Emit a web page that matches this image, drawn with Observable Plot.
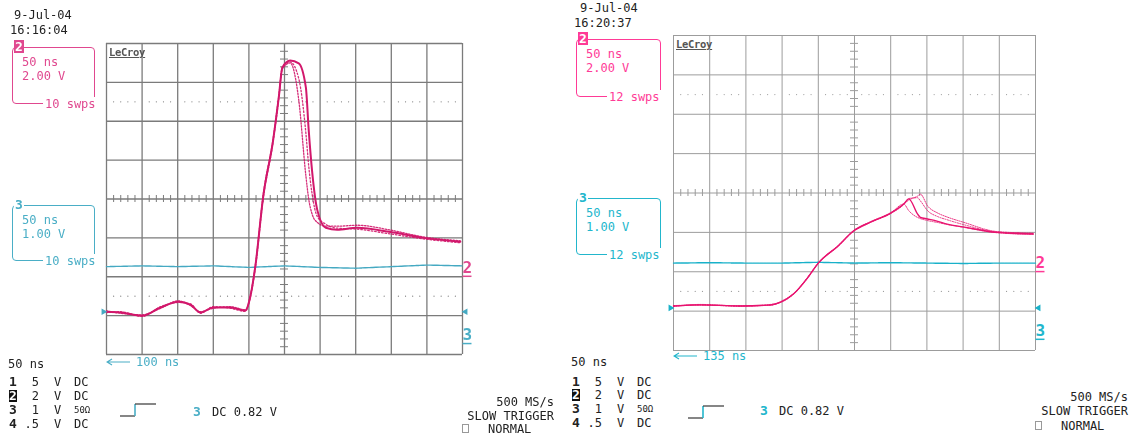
<!DOCTYPE html>
<html>
<head>
<meta charset="utf-8">
<script src="https://cdn.jsdelivr.net/npm/d3@7"></script>
<script src="https://cdn.jsdelivr.net/npm/@observablehq/plot@0.6"></script>
<style>
  html, body { margin: 0; background: #fff; }
  #page { position: relative; width: 1133px; height: 437px; overflow: hidden;
          font-family: "DejaVu Sans Mono", monospace; font-size: 12px; color: #222; }
  .layer { position: absolute; left: 0; top: 0; width: 1133px; height: 437px; }
  .t { position: absolute; white-space: pre; line-height: 14px; }
  .box { position: absolute; box-sizing: border-box; border-radius: 4px; }
</style>
</head>
<body>
<div id="page"></div>
<script>
// ---------------------------------------------------------------------------
// Two LeCroy captures, channel 2 (2 V/div) and channel 3 (1 V/div), 50 ns/div.
// Times are ns from the left edge of the screen, voltages are on-screen volts
// relative to the centre graticule line.
// ---------------------------------------------------------------------------
const timePerDivNs = 50;
const ch2VoltsPerDiv = 2;
const ch3VoltsPerDiv = 1;

// Capture 1 — 9-Jul-04 16:16:04, 10 sweeps
const leftTimeNs   = [0, 20, 50, 76, 101, 118, 132, 150, 174, 195, 201, 209, 220, 234, 242, 247, 258, 270, 280, 284, 289, 296, 308, 324, 352, 399, 445, 497];
const leftCh2SweepA = [-5.80, -5.84, -6.00, -5.58, -5.28, -5.44, -5.84, -5.58, -5.58, -5.74, -5.18, -3.48, 0.10, 3.02, 5.24, 6.76, 7.12, 6.98, 5.74, 3.54, 1.34, -0.56, -1.48, -1.58, -1.48, -1.70, -2.00, -2.20];
const leftCh2SweepB = [-5.76, -5.88, -5.96, -5.62, -5.24, -5.48, -5.80, -5.62, -5.54, -5.70, -5.14, -3.40, 0.20, 3.10, 5.30, 6.70, 7.00, 5.10, 1.20, 0.00, -0.80, -1.20, -1.40, -1.40, -1.35, -1.60, -1.95, -2.15];
const leftCh2SweepC = [-5.84, -5.80, -6.04, -5.54, -5.32, -5.40, -5.88, -5.54, -5.62, -5.78, -5.22, -3.56, 0.00, 2.94, 5.18, 6.80, 7.05, 6.20, 3.40, 1.70, 0.20, -0.90, -1.30, -1.50, -1.55, -1.80, -2.05, -2.25];
const leftCh3TimeNs = [0, 50, 100, 150, 200, 250, 300, 350, 400, 450, 500];
const leftCh3Volts  = [-1.74, -1.72, -1.74, -1.72, -1.76, -1.72, -1.76, -1.78, -1.74, -1.70, -1.72];

// Capture 2 — 9-Jul-04 16:20:37, 12 sweeps
const rightTimeNs   = [0, 37, 93, 134, 148, 166, 185, 200, 227, 249, 272, 300, 318, 325, 337, 341, 351, 365, 378, 400, 447, 497];
const rightCh2SweepA = [-5.74, -5.68, -5.74, -5.68, -5.54, -5.12, -4.32, -3.56, -2.70, -1.92, -1.48, -1.02, -0.56, -0.30, -1.06, -1.24, -1.32, -1.44, -1.58, -1.72, -2.00, -2.08];
const rightCh2SweepB = [-5.74, -5.70, -5.72, -5.70, -5.52, -5.10, -4.30, -3.54, -2.68, -1.90, -1.46, -1.00, -0.56, -0.36, -0.16, -0.06, -0.66, -1.02, -1.22, -1.48, -1.96, -2.04];
const rightCh2SweepC = [-5.72, -5.68, -5.76, -5.66, -5.56, -5.14, -4.34, -3.58, -2.72, -1.94, -1.50, -1.04, -0.58, -0.28, -0.24, -0.40, -0.90, -1.20, -1.36, -1.60, -1.98, -2.06];
const rightCh2SweepD = [-5.76, -5.66, -5.74, -5.70, -5.54, -5.12, -4.30, -3.56, -2.70, -1.92, -1.48, -1.02, -0.56, -0.90, -1.24, -1.30, -1.40, -1.50, -1.60, -1.74, -2.02, -2.10];
const rightCh3TimeNs = [0, 50, 100, 150, 200, 250, 300, 350, 400, 450, 500];
const rightCh3Volts  = [-1.78, -1.77, -1.78, -1.78, -1.76, -1.78, -1.77, -1.78, -1.79, -1.78, -1.78];

// Readout texts
const captureDates = ["9-Jul-04", "9-Jul-04"];
const captureTimes = ["16:16:04", "16:20:37"];
const sweepCounts  = ["10 swps", "12 swps"];
const delayLabels  = ["100 ns", "135 ns"];
const channelRows  = [["1", "5", "V", "DC"], ["2", "2", "V", "DC"], ["3", "1", "V", "50\u03a9"], ["4", ".5", "V", "DC"]];
const triggerText  = ["3", "DC 0.82 V"];
const acqLines     = ["500 MS/s", "SLOW TRIGGER", "NORMAL"];

// Marker levels in divisions (ground arrow of ch3, trace labels at right edge)
const groundLevelDiv = [-2.90, -2.92];
const label2LevelDiv = [-1.77, -1.78];
const label3LevelDiv = [-3.50, -3.50];

// ---------------------------------------------------------------------------
const page = document.getElementById("page");

function el(parent, tag, style, text) {
  const e = document.createElement(tag);
  Object.assign(e.style, style);
  if (text != null) e.textContent = text;
  parent.appendChild(e);
  return e;
}
function txt(parent, s, x, cy, style = {}) {
  const d = el(parent, "div", Object.assign({left: x + "px", top: (cy - 7) + "px"}, style), s);
  d.classList.add("t");
  return d;
}
function txtRight(parent, s, xr, cy, style = {}) {
  const d = el(parent, "div", Object.assign({right: (1133 - xr) + "px", top: (cy - 7) + "px"}, style), s);
  d.classList.add("t");
  return d;
}

function toRows(times, volts, vpd) {
  return times.map((t, i) => ({t, div: volts[i] / vpd}));
}

function scopePlot(cfg) {
  const f = cfg.frame;
  const M = {l: 14, r: 26, t: 4, b: 4};
  const pxPerNs = f.w / 500, pxPerDiv = f.h / 8;
  const nsPerPx = 1 / pxPerNs, divPerPx = 1 / pxPerDiv;
  const tickNs = 4 * nsPerPx, tickDiv = 3.5 * divPerPx;
  const majorX = d3.range(0, 501, timePerDivNs);
  const majorY = d3.range(-4, 5, 1);
  const minorX = d3.range(0, 501, 10).filter(v => v % 50 !== 0);
  const minorY = d3.range(-40, 41, 2).map(v => v / 10).filter(v => !Number.isInteger(v));
  const dotted = [];
  for (const y of [-2.5, 2.5]) for (const x of minorX) dotted.push({x, y});

  const ch3 = toRows(cfg.ch3Time, cfg.ch3Volts, ch3VoltsPerDiv);
  const sweeps = cfg.sweeps.map(s => toRows(cfg.time, s.volts, ch2VoltsPerDiv));

  const edgeLabels = [
    {t: 500, div: cfg.label2, s: "2", color: cfg.pinkText},
    {t: 500, div: cfg.label3, s: "3", color: cfg.tealText}
  ];

  const svg = Plot.plot({
    width: f.w + M.l + M.r, height: f.h + M.t + M.b,
    marginLeft: M.l, marginRight: M.r, marginTop: M.t, marginBottom: M.b,
    x: {domain: [0, 500], axis: null},
    y: {domain: [-4, 4], axis: null},
    style: {background: "transparent", overflow: "visible"},
    marks: [
      Plot.ruleX(majorX, {stroke: cfg.grid, strokeWidth: cfg.gridW, strokeOpacity: 1}),
      Plot.ruleY(majorY, {stroke: cfg.grid, strokeWidth: cfg.gridW, strokeOpacity: 1}),
      Plot.ruleY(minorY, {x1: 250 - tickNs, x2: 250 + tickNs, stroke: cfg.grid, strokeWidth: 1}),
      Plot.ruleX(minorX, {y1: -tickDiv, y2: tickDiv, stroke: cfg.grid, strokeWidth: 1}),
      Plot.dot(dotted, {x: "x", y: "y", r: 0.6, fill: cfg.grid, stroke: null}),
      Plot.line(ch3, {x: "t", y: "div", stroke: cfg.teal, strokeWidth: 1.4, strokeDasharray: "3,0.6"}),
      ...sweeps.map((rows, i) => Plot.line(rows, {
        x: "t", y: "div", stroke: cfg.trace, curve: "monotone-x",
        strokeWidth: cfg.sweeps[i].width,
        strokeDasharray: cfg.sweeps[i].dash || null,
        strokeOpacity: cfg.sweeps[i].opacity || 1
      })),
      // ch3 ground arrows at both edges
      Plot.dot([{t: 0, div: cfg.ground}], {x: "t", y: "div", symbol: "triangle2", r: 3.2, rotate: 90, dx: -3, fill: cfg.teal, stroke: null}),
      Plot.dot([{t: 500, div: cfg.ground}], {x: "t", y: "div", symbol: "triangle2", r: 3.2, rotate: -90, dx: 3, fill: cfg.teal, stroke: null}),
      // trace labels at the right edge, underlined
      Plot.text(edgeLabels, {x: "t", y: "div", text: "s", dx: 0, textAnchor: "start",
        fill: "color", fontSize: 16, fontWeight: "bold", fontFamily: "DejaVu Sans Mono"}),
      Plot.ruleY(edgeLabels, {y: d => d.div - 8.5 * divPerPx, x1: 500 + 0.5 * nsPerPx, x2: 500 + 9.5 * nsPerPx,
        stroke: "color", strokeWidth: 1.5})
    ]
  });
  Object.assign(svg.style, {position: "absolute", left: (f.x - M.l) + "px", top: (f.y - M.t) + "px"});
  return svg;
}

function infoBox(layer, b) {
  el(layer, "div", {left: b.x + "px", top: b.y + "px", width: b.w + "px", height: b.h + "px",
    border: `1px solid ${b.color}`}).classList.add("box");
  el(layer, "div", {position: "absolute", left: (b.x + 2) + "px", top: (b.y - 7) + "px",
    fontWeight: "bold", fontSize: "13px", lineHeight: "13px", padding: "0 1px",
    background: b.inverse ? b.color : "#fff", color: b.inverse ? "#fff" : b.color}, b.tag);
  b.lines.forEach((s, i) => txt(layer, s, b.x + 10, b.y + 15 + i * 14, {color: b.color}));
  txt(layer, b.sweeps, b.x + 31, b.y + b.h, {color: b.color, background: "#fff", paddingLeft: "2px", paddingRight: "1px"});
}

function arrow(layer, x, cy, color) {
  const ns = "http://www.w3.org/2000/svg";
  const s = document.createElementNS(ns, "svg");
  s.setAttribute("width", 26); s.setAttribute("height", 10);
  Object.assign(s.style, {position: "absolute", left: x + "px", top: (cy - 5) + "px"});
  s.innerHTML = `<path d="M1,5 H24 M6,2 L1,5 L6,8" fill="none" stroke="${color}" stroke-width="1.2"/>`;
  layer.appendChild(s);
}
function triggerStep(layer, x, y, teal) {
  const ns = "http://www.w3.org/2000/svg";
  const s = document.createElementNS(ns, "svg");
  s.setAttribute("width", 38); s.setAttribute("height", 16);
  Object.assign(s.style, {position: "absolute", left: x + "px", top: y + "px"});
  s.innerHTML = `<path d="M0,14 H15" stroke="#444" stroke-width="1.3" fill="none"/>
    <path d="M15,14 V2" stroke="${teal}" stroke-width="1.6" fill="none"/>
    <path d="M15,2 H36" stroke="#444" stroke-width="1.3" fill="none"/>`;
  layer.appendChild(s);
}

function panel(cfg, k) {
  const layer = el(page, "div", {filter: cfg.blur ? `blur(${cfg.blur}px)` : "none"});
  layer.classList.add("layer");
  const o = cfg.text;

  // date / time stamp
  txt(layer, captureDates[k], o.date[0], o.date[1]);
  txt(layer, captureTimes[k], o.time[0], o.time[1]);

  // trace readout boxes
  infoBox(layer, {x: o.box2[0], y: o.box2[1], w: o.box2[2], h: o.box2[3], color: cfg.pinkText,
    tag: "2", inverse: true, lines: ["50 ns", "2.00 V"], sweeps: sweepCounts[k]});
  infoBox(layer, {x: o.box3[0], y: o.box3[1], w: o.box3[2], h: o.box3[3], color: cfg.tealText,
    tag: "3", inverse: false, lines: ["50 ns", "1.00 V"], sweeps: sweepCounts[k]});

  // graticule and traces
  layer.appendChild(scopePlot(cfg));

  // LeCroy logo
  txt(layer, "LeCroy", cfg.frame.x + 3, cfg.frame.y + 9, {fontSize: "10.5px", fontWeight: "bold", color: "#555",
    textDecoration: "underline", letterSpacing: "-0.3px"});

  // timebase and channel table
  txt(layer, "50 ns", o.table[0] - 1, o.tb);
  channelRows.forEach((r, i) => {
    const cy = o.rows[i], x0 = o.table[0];
    txt(layer, r[0], x0, cy, i === 1
      ? {fontWeight: "bold", fontSize: "13px", background: "#111", color: "#fff", lineHeight: "12px", top: (cy - 6) + "px"}
      : {fontWeight: "bold", fontSize: "13px"});
    txtRight(layer, r[1], x0 + 30, cy);
    txt(layer, r[2], x0 + 45, cy);
    txt(layer, r[3], x0 + 65, cy, r[3].length > 2 ? {fontSize: "9px"} : {});
  });

  // trigger delay arrow
  arrow(layer, cfg.frame.x, o.delay, cfg.tealText);
  txt(layer, delayLabels[k], cfg.frame.x + 30, o.delay, {color: cfg.tealText});

  // trigger readout
  triggerStep(layer, o.step[0], o.step[1], cfg.tealText);
  txt(layer, triggerText[0], o.trig[0], o.trig[1], {color: cfg.tealText, fontWeight: "bold", fontSize: "13px"});
  txt(layer, triggerText[1], o.trig[0] + 19, o.trig[1]);

  // acquisition status
  txtRight(layer, acqLines[0], o.acqRight, o.acq[0]);
  txtRight(layer, acqLines[1], o.acqRight, o.acq[1]);
  el(layer, "div", {position: "absolute", left: o.square[0] + "px", top: o.square[1] + "px",
    width: "5px", height: "7px", border: "1px solid #999"});
  txt(layer, acqLines[2], o.square[0] + 26, o.acq[2]);
}

const panels = [
  {
    frame: {x: 106, y: 43, w: 356, h: 311},
    grid: "#7b7b7b", gridW: 1.3,
    trace: "#d2186c", teal: "#45a9c2", pinkText: "#e0488f", tealText: "#4aaec6",
    blur: 0.5,
    time: leftTimeNs,
    sweeps: [
      {volts: leftCh2SweepA, width: 2},
      {volts: leftCh2SweepB, width: 1.3, dash: "1.5,1.5", opacity: 0.9},
      {volts: leftCh2SweepC, width: 1.3, dash: "1.5,2", opacity: 0.9}
    ],
    ch3Time: leftCh3TimeNs, ch3Volts: leftCh3Volts,
    ground: groundLevelDiv[0], label2: label2LevelDiv[0], label3: label3LevelDiv[0],
    text: {
      date: [14, 15], time: [10, 30],
      box2: [12, 47, 83, 57], box3: [12, 205, 83, 56],
      tb: 364, table: [9, 0], rows: [382, 396, 410, 424],
      delay: 362,
      step: [120, 402], trig: [193, 412],
      acqRight: 554, acq: [402, 416, 429], square: [462, 424]
    }
  },
  {
    frame: {x: 673, y: 35, w: 362, h: 315},
    grid: "#9c9c9c", gridW: 1,
    trace: "#e8136f", teal: "#19b1c9", pinkText: "#ff3a96", tealText: "#22b6cc",
    blur: 0,
    time: rightTimeNs,
    sweeps: [
      {volts: rightCh2SweepB, width: 1, dash: "1.2,1.2", opacity: 0.85},
      {volts: rightCh2SweepC, width: 1, dash: "1.2,1.4", opacity: 0.85},
      {volts: rightCh2SweepD, width: 1, dash: "1.2,1.2", opacity: 0.85},
      {volts: rightCh2SweepA, width: 1.4}
    ],
    ch3Time: rightCh3TimeNs, ch3Volts: rightCh3Volts,
    ground: groundLevelDiv[1], label2: label2LevelDiv[1], label3: label3LevelDiv[1],
    text: {
      date: [580, 8], time: [574, 23],
      box2: [576, 39, 85, 58], box3: [576, 198, 85, 57],
      tb: 362, table: [572, 0], rows: [382, 395, 409, 423],
      delay: 356,
      step: [688, 404], trig: [760, 411],
      acqRight: 1128, acq: [397, 411, 426], square: [1035, 421]
    }
  }
];

panels.forEach(panel);
</script>
</body>
</html>
